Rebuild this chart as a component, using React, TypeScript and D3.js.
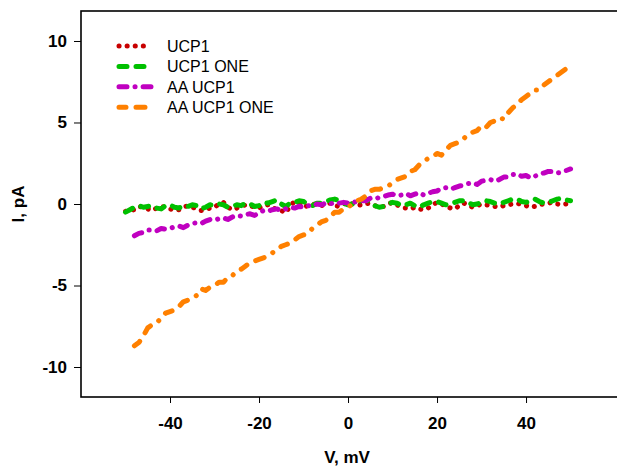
import React, { useEffect, useRef } from 'react';
import * as d3 from 'd3';

const W = 617;
const H = 473;

// voltage sweeps, mV (1 mV steps)
const vControl = d3.range(-50, 51); // UCP1, UCP1 ONE
const vAA = d3.range(-48, 51); // AA UCP1, AA UCP1 ONE

// currents, pA
const ucp1 = [
  -0.45, -0.4, -0.35, -0.15, -0.2, -0.3, -0.4, -0.25, -0.15, -0.2,
  -0.3, -0.4, -0.35, -0.2, -0.1, -0.2, -0.3, -0.4, -0.35, -0.25,
  -0.2, 0.0, 0.1, -0.2, -0.35, -0.25, -0.15, -0.05, -0.1, -0.2,
  -0.25, -0.1, -0.05, -0.2, -0.35, -0.4, -0.55, -0.1, 0.15, 0.05,
  -0.2, -0.1, 0.0, -0.05, -0.1, 0.0, 0.05, -0.1, -0.15, 0.0,
  0.1, 0.0, -0.1, -0.05, 0.05, 0.0, -0.1, -0.2, -0.15, 0.0,
  0.1, -0.05, -0.2, -0.25, -0.3, -0.2, -0.3, -0.35, -0.25, -0.05,
  0.1, 0.0, -0.15, -0.25, -0.3, -0.1, 0.05, -0.05, -0.2, -0.1,
  0.0, -0.05, -0.1, -0.15, -0.2, -0.1, -0.05, 0.0, 0.05, -0.05,
  -0.1, -0.2, -0.15, -0.05, 0.0, 0.05, 0.1, 0.0, -0.05, 0.0,
  0.05,
];
const ucp1One = [
  -0.5, -0.35, -0.2, -0.1, -0.2, -0.15, -0.1, -0.25, -0.3, -0.1,
  -0.05, -0.2, -0.25, -0.1, -0.15, -0.05, -0.1, -0.3, -0.2, -0.05,
  -0.1, 0.0, -0.05, -0.2, -0.15, -0.05, -0.1, 0.05, 0.0, -0.15,
  -0.1, 0.1, 0.05, 0.15, 0.25, 0.0, -0.15, 0.05, 0.1, 0.2,
  0.15, 0.0, -0.1, 0.05, 0.05, 0.15, 0.25, 0.3, 0.2, 0.05,
  -0.05, 0.0, 0.1, 0.2, 0.3, 0.1, -0.1, -0.2, -0.15, 0.0,
  0.1, 0.05, -0.1, -0.05, 0.05, -0.1, -0.2, -0.05, 0.05, 0.15,
  0.15, 0.05, -0.05, 0.0, 0.1, 0.2, 0.2, 0.1, -0.05, 0.0,
  0.1, 0.2, 0.15, 0.05, 0.0, 0.1, 0.2, 0.3, 0.3, 0.15,
  0.1, 0.2, 0.3, 0.15, 0.05, 0.1, 0.2, 0.3, 0.35, 0.25,
  0.2,
];
const aaUcp1 = [
  -1.95, -1.8, -1.75, -1.6, -1.6, -1.65, -1.5, -1.55, -1.5, -1.4,
  -1.35, -1.45, -1.3, -1.2, -1.15, -1.2, -1.05, -0.95, -1.0, -0.9,
  -0.85, -0.95, -0.8, -0.7, -0.75, -0.65, -0.6, -0.7, -0.55, -0.4,
  -0.45, -0.35, -0.3, -0.4, -0.3, -0.2, -0.25, -0.15, -0.2, -0.1,
  -0.15, 0.0, -0.05, 0.05, 0.0, 0.1, 0.05, 0.1, 0.05, 0.15,
  0.1, 0.2, 0.2, 0.35, 0.3, 0.4, 0.45, 0.55, 0.6, 0.5,
  0.55, 0.65, 0.5, 0.6, 0.7, 0.55, 0.65, 0.75, 0.8, 0.95,
  1.0, 0.9, 1.0, 1.1, 1.15, 1.25, 1.3, 1.2, 1.4, 1.45,
  1.5, 1.4, 1.5, 1.65, 1.65, 1.8, 1.85, 1.7, 1.75, 1.6,
  1.7, 1.85, 1.9, 2.0, 2.0, 1.9, 1.95, 2.05, 2.15,
];
const aaUcp1One = [
  -8.7, -8.5, -8.1, -7.6, -7.4, -7.3, -7.0, -6.7, -6.6, -6.5,
  -6.3, -6.0, -5.9, -5.8, -5.6, -5.2, -5.3, -5.1, -5.0, -4.8,
  -4.8, -4.5, -4.4, -4.1, -4.0, -3.8, -3.6, -3.5, -3.4, -3.3,
  -3.2, -3.0, -2.8, -2.6, -2.5, -2.4, -2.2, -2.0, -1.9, -1.8,
  -1.5, -1.3, -1.1, -1.0, -0.8, -0.5, -0.5, -0.3, -0.2, 0.0,
  0.2, 0.3, 0.5, 0.8, 0.9, 0.9, 1.0, 1.1, 1.3, 1.5,
  1.6, 1.7, 2.0, 2.1, 2.4, 2.6, 2.8, 2.9, 3.1, 3.0,
  3.3, 3.6, 3.7, 3.8, 4.0, 4.3, 4.4, 4.5, 4.8, 4.7,
  5.0, 5.1, 5.3, 5.2, 5.6, 5.9, 6.1, 6.4, 6.6, 6.8,
  7.0, 7.0, 7.3, 7.5, 7.7, 7.9, 8.1, 8.3, 8.6,
];

const seriesNames = ['UCP1', 'UCP1 ONE', 'AA UCP1', 'AA UCP1 ONE'];
const seriesX = [vControl, vControl, vAA, vAA];
const seriesValues = [ucp1, ucp1One, aaUcp1, aaUcp1One];
const seriesColors = ['#c80000', '#00c000', '#c000c0', '#ff8000'];
const seriesDashes = ['0.1 8', '8 9', '8 8 0.1 8', '7 10 9 10 0.1 10'];

const xTicks = [-40, -20, 0, 20, 40];
const yTicks = [-10, -5, 0, 5, 10];

const App = () => {
  const ref = useRef<SVGSVGElement>(null);

  useEffect(() => {
    const svg = d3.select(ref.current);
    svg.selectAll('*').remove();

    const x = d3.scaleLinear().domain([-60, 61]).range([81, 619.5]);
    const y = d3.scaleLinear().domain([-11.84, 11.84]).range([397, 11]);

    const font = 'Arial, "Liberation Sans", sans-serif';

    // data lines
    const line = d3.line<[number, number]>()
      .x(d => x(d[0]))
      .y(d => y(d[1]));

    seriesValues.forEach((vals, i) => {
      const pts = seriesX[i].map((v, j) => [v, vals[j]] as [number, number]);
      svg.append('path')
        .attr('d', line(pts))
        .attr('fill', 'none')
        .attr('stroke', seriesColors[i])
        .attr('stroke-width', 5)
        .attr('stroke-linecap', 'round')
        .attr('stroke-linejoin', 'round')
        .attr('stroke-dasharray', seriesDashes[i]);
    });

    // frame (right side runs off the picture)
    svg.append('rect')
      .attr('x', x(-60))
      .attr('y', y(11.84))
      .attr('width', x(61) - x(-60))
      .attr('height', y(-11.84) - y(11.84))
      .attr('fill', 'none')
      .attr('stroke', '#000')
      .attr('stroke-width', 1.6);

    const styleAxis = g => {
      g.select('.domain').remove();
      g.selectAll('line').attr('stroke', '#000').attr('stroke-width', 1);
      g.selectAll('text')
        .attr('fill', '#000')
        .style('font-family', font)
        .style('font-size', '17px')
        .style('font-weight', 'bold');
    };

    // x axis
    svg.append('g')
      .attr('transform', `translate(0,${y(-11.84)})`)
      .call(d3.axisBottom(x).tickValues(xTicks).tickSize(6).tickPadding(14).tickFormat(d => String(d)))
      .call(styleAxis);

    // y axis
    svg.append('g')
      .attr('transform', `translate(${x(-60)},0)`)
      .call(d3.axisLeft(y).tickValues(yTicks).tickSize(7).tickPadding(7).tickFormat(d => String(d)))
      .call(styleAxis);

    // axis titles
    svg.append('text')
      .attr('x', x(0) - 1)
      .attr('y', 463)
      .attr('text-anchor', 'middle')
      .style('font-family', font)
      .style('font-size', '17px')
      .style('font-weight', 'bold')
      .text('V, mV');

    svg.append('text')
      .attr('transform', `translate(24,${y(0)}) rotate(-90)`)
      .attr('text-anchor', 'middle')
      .style('font-family', font)
      .style('font-size', '17px')
      .style('font-weight', 'bold')
      .text('I, pA');

    // legend
    const legend = svg.append('g');
    seriesNames.forEach((name, i) => {
      const ly = 46 + i * 20.4;
      legend.append('line')
        .attr('x1', 119).attr('x2', 151)
        .attr('y1', ly).attr('y2', ly)
        .attr('stroke', seriesColors[i])
        .attr('stroke-width', 5)
        .attr('stroke-linecap', 'round')
        .attr('stroke-dasharray', seriesDashes[i]);
      legend.append('text')
        .attr('x', 167)
        .attr('y', ly + 6)
        .style('font-family', font)
        .style('font-size', '16px')
        .text(name);
    });
  }, []);

  return (
    <svg
      ref={ref}
      width={W}
      height={H}
      style={{ position: 'absolute', left: 0, top: 0, background: '#fff' }}
    />
  );
};

export default App;
